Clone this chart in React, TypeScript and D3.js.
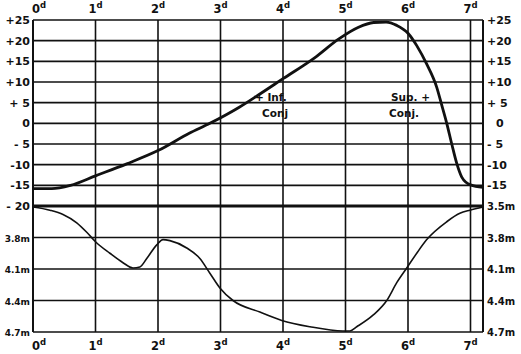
import * as d3 from "d3";

// ── Data ──────────────────────────────────────────────────────
const DAYS = [0, 1, 2, 3, 4, 5, 6, 7];
const VEL_TICKS = [25, 20, 15, 10, 5, 0, -5, -10, -15, -20];
const VEL_LABELS = ["+25", "+20", "+15", "+10", "+ 5", "0", "- 5", "-10", "-15", "- 20"];
const MAG_TICKS = [3.8, 4.1, 4.4, 4.7];
const MAG_LABELS = ["3.8m", "4.1m", "4.4m", "4.7m"];

// radial velocity curve (km/s)
const VEL_DAY = [0, 0.3, 0.6, 1, 1.5, 2, 2.5, 2.83, 3.3, 3.6, 4, 4.5, 4.9, 5.2, 5.45, 5.65, 5.82, 6, 6.14, 6.3, 6.46, 6.54, 6.62, 6.7, 6.78, 6.86, 7, 7.2];
const VEL_KMS = [-15.8, -15.8, -15, -12.7, -9.8, -6.6, -2.4, 0, 3.9, 6.8, 10.8, 15.8, 20.5, 23.2, 24.4, 24.5, 23.7, 21.8, 18.8, 14.3, 8.7, 4.4, 0, -5, -9.7, -13, -14.9, -15.5];

// light curve (magnitude)
const MAG_DAY = [0, 0.27, 0.48, 0.7, 0.86, 1, 1.23, 1.44, 1.6, 1.71, 1.82, 1.98, 2.08, 2.19, 2.46, 2.67, 2.83, 2.99, 3.2, 3.63, 3.98, 4.43, 4.96, 5.07, 5.18, 5.44, 5.66, 5.82, 5.98, 6.14, 6.3, 6.62, 6.83, 6.99, 7.2];
const MAG_VAL = [3.51, 3.54, 3.58, 3.66, 3.75, 3.84, 3.95, 4.04, 4.09, 4.08, 4.0, 3.87, 3.82, 3.83, 3.9, 4.0, 4.14, 4.28, 4.4, 4.51, 4.59, 4.65, 4.69, 4.69, 4.65, 4.54, 4.4, 4.23, 4.09, 3.95, 3.82, 3.65, 3.57, 3.54, 3.51];

// ── Geometry ──────────────────────────────────────────────────
const W = 521;
const H = 354;
const X0 = 33;
const X1 = 483;
const INK = "#111";
const FONT = "'DejaVu Sans', sans-serif";

export default function App() {
  const x = d3.scaleLinear().domain([0, 7.2]).range([X0, X1]);
  const yv = d3.scaleLinear().domain([-20, 25]).range([206, 20]);
  const ym = d3.scaleLinear().domain([3.5, 4.7]).range([206, 332]);

  const velLine = d3.line<number>()
    .x((_d, i) => x(VEL_DAY[i]))
    .y((d) => yv(d))
    .curve(d3.curveMonotoneX);
  const magLine = d3.line<number>()
    .x((_d, i) => x(MAG_DAY[i]))
    .y((d) => ym(d))
    .curve(d3.curveMonotoneX);

  const top = yv(25);
  const bottom = ym(4.7);

  const dayLabel = (d: number, y: number, key: string) => (
    <text key={key} x={x(d) + (d === 0 ? 6 : 0)} y={y} textAnchor="middle"
      fontFamily={FONT} fontWeight="bold" fontSize={11.5} fill={INK}>
      {d}
      <tspan fontSize={8.5} dy={-5}>d</tspan>
    </text>
  );

  return (
    <svg width={W} height={H} style={{ position: "absolute", left: 0, top: 0, background: "#fff" }}>
      {/* horizontal grid, velocity half */}
      {VEL_TICKS.map((t) => (
        <line key={"hv" + t} x1={X0} x2={X1} y1={yv(t)} y2={yv(t)}
          stroke={INK} strokeWidth={t === -20 ? 3 : 1.6} />
      ))}
      {/* horizontal grid, magnitude half */}
      {MAG_TICKS.map((t) => (
        <line key={"hm" + t} x1={X0} x2={X1} y1={ym(t)} y2={ym(t)} stroke={INK} strokeWidth={1.6} />
      ))}
      {/* vertical day lines */}
      {DAYS.map((d) => (
        <line key={"vd" + d} x1={x(d)} x2={x(d)} y1={top} y2={bottom}
          stroke={INK} strokeWidth={d === 0 ? 2 : 1.6} />
      ))}
      <line x1={X1} x2={X1} y1={top} y2={bottom} stroke={INK} strokeWidth={2} />

      {/* curves */}
      <path d={velLine(VEL_KMS) ?? ""} fill="none" stroke={INK} strokeWidth={2.8} strokeLinejoin="round" />
      <path d={magLine(MAG_VAL) ?? ""} fill="none" stroke={INK} strokeWidth={1.6} strokeLinejoin="round" />

      {/* left labels */}
      {VEL_TICKS.map((t, i) => (
        <text key={"lv" + t} x={30} y={yv(t) + 4} textAnchor="end"
          fontFamily={FONT} fontWeight="bold" fontSize={11} fill={INK}>{VEL_LABELS[i]}</text>
      ))}
      {MAG_TICKS.map((t, i) => (
        <text key={"lm" + t} x={30} y={ym(t) + 4} textAnchor="end"
          fontFamily={FONT} fontWeight="bold" fontSize={9} fill={INK}>{MAG_LABELS[i]}</text>
      ))}
      {/* right labels */}
      {VEL_TICKS.slice(0, -1).map((t, i) => (
        <text key={"rv" + t} x={t === 0 ? 496 : 487} y={yv(t) + 4}
          fontFamily={FONT} fontWeight="bold" fontSize={11} fill={INK}>{VEL_LABELS[i]}</text>
      ))}
      <text x={487} y={yv(-20) + 4} fontFamily={FONT} fontWeight="bold" fontSize={10} fill={INK}>3.5m</text>
      {MAG_TICKS.map((t, i) => (
        <text key={"rm" + t} x={487} y={ym(t) + 4}
          fontFamily={FONT} fontWeight="bold" fontSize={10} fill={INK}>{MAG_LABELS[i]}</text>
      ))}

      {/* day labels, top and bottom */}
      {DAYS.map((d) => dayLabel(d, 13, "td" + d))}
      {DAYS.map((d) => dayLabel(d, 350, "bd" + d))}

      {/* conjunction notes */}
      <g fontFamily={FONT} fontWeight="bold" fontSize={10.5} fill={INK}>
        <text x={255} y={101}>+ Inf.</text>
        <text x={262} y={117}>Conj</text>
        <text x={391} y={101}>Sup. +</text>
        <text x={389} y={117}>Conj.</text>
      </g>
    </svg>
  );
}
